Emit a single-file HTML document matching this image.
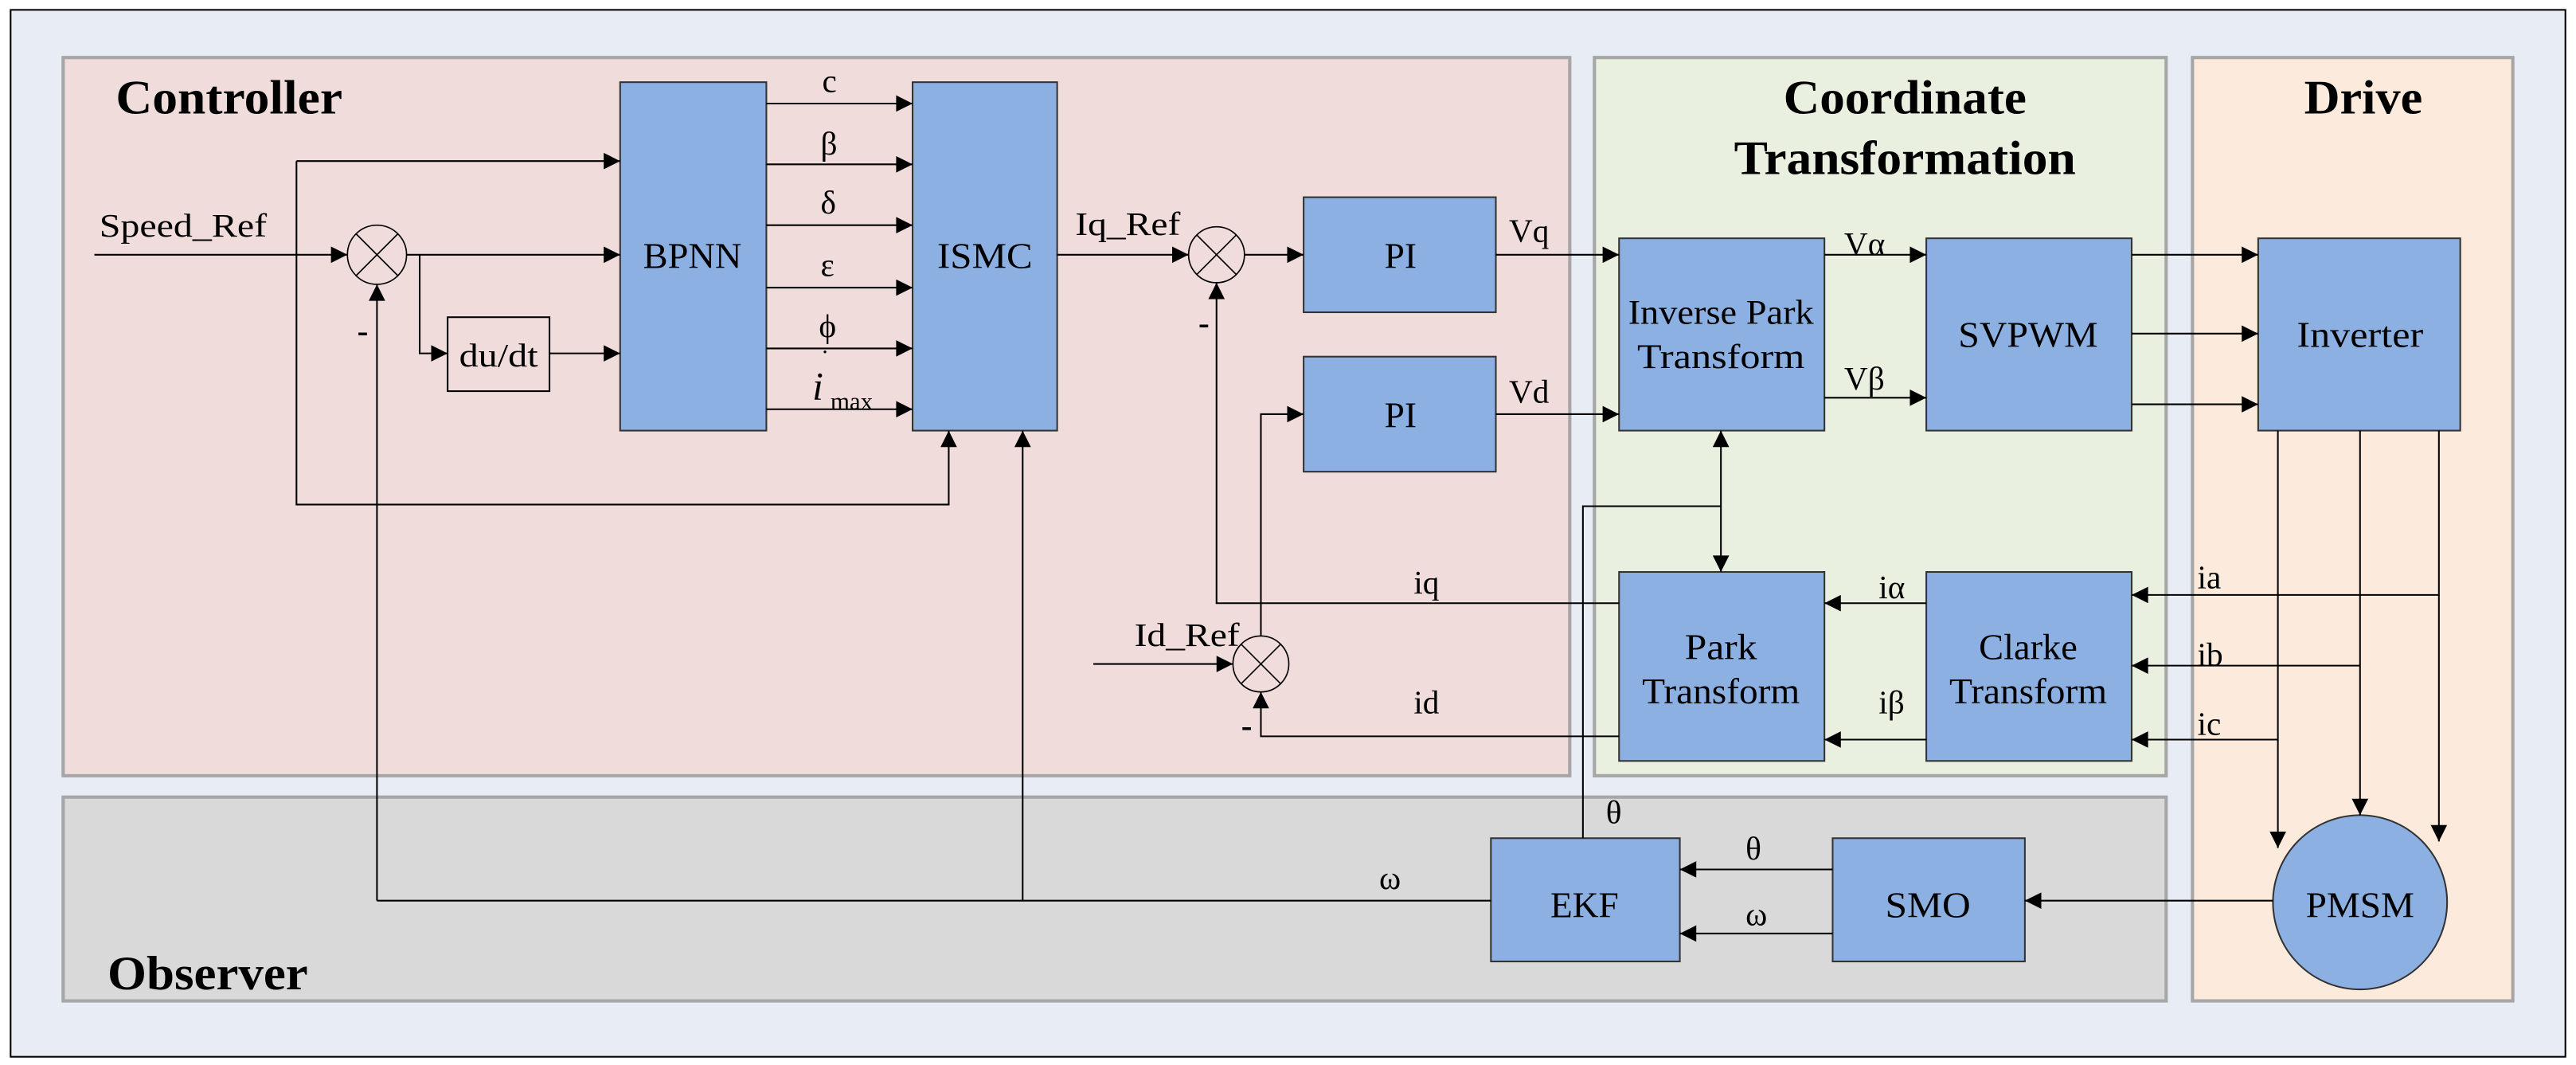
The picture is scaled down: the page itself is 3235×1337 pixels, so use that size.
<!DOCTYPE html>
<html><head><meta charset="utf-8"><style>
html,body{margin:0;padding:0;background:#fff;}
svg{display:block}
text{font-family:"Liberation Serif",serif;fill:#000}
</style></head><body>
<svg width="3235" height="1337" viewBox="0 0 1567 648" xmlns="http://www.w3.org/2000/svg">
<defs>
<marker id="a" viewBox="0 0 10 10" refX="10" refY="5" markerWidth="12" markerHeight="10" markerUnits="userSpaceOnUse" orient="auto"><path d="M0,0L10,5L0,10z" fill="#000"/></marker>
<marker id="s" viewBox="0 0 10 10" refX="0" refY="5" markerWidth="12" markerHeight="10" markerUnits="userSpaceOnUse" orient="auto"><path d="M10,0L0,5L10,10z" fill="#000"/></marker>
</defs>
<rect x="0" y="0" width="1567" height="648" fill="#fff"/>
<rect x="6" y="6" width="1555" height="637" fill="#e8edf5" stroke="#000" stroke-width="1"/>
<rect x="38" y="35" width="917" height="437" fill="#f0dcdb" stroke="#a6a6a6" stroke-width="2"/>
<rect x="970" y="35" width="348" height="437" fill="#e9f0e0" stroke="#a6a6a6" stroke-width="2"/>
<rect x="1334" y="35" width="195" height="574" fill="#fcebdd" stroke="#a6a6a6" stroke-width="2"/>
<rect x="38" y="485" width="1280" height="124" fill="#d9d9d9" stroke="#a6a6a6" stroke-width="2"/>

<g font-weight="bold" font-size="29">
<text x="70" y="69" textLength="138" lengthAdjust="spacingAndGlyphs">Controller</text>
<text x="1085" y="69" textLength="148" lengthAdjust="spacingAndGlyphs">Coordinate</text>
<text x="1055" y="106" textLength="208" lengthAdjust="spacingAndGlyphs">Transformation</text>
<text x="1402" y="69" textLength="72" lengthAdjust="spacingAndGlyphs">Drive</text>
<text x="65" y="602" textLength="122" lengthAdjust="spacingAndGlyphs">Observer</text>
</g>

<g fill="#8db0e2" stroke="#333" stroke-width="1">
<rect x="377" y="50" width="89" height="212"/>
<rect x="555" y="50" width="88" height="212"/>
<rect x="793" y="120" width="117" height="70"/>
<rect x="793" y="217" width="117" height="70"/>
<rect x="985" y="145" width="125" height="117"/>
<rect x="1172" y="145" width="125" height="117"/>
<rect x="1374" y="145" width="123" height="117"/>
<rect x="985" y="348" width="125" height="115"/>
<rect x="1172" y="348" width="125" height="115"/>
<rect x="907" y="510" width="115" height="75"/>
<rect x="1115" y="510" width="117" height="75"/>
<circle cx="1436" cy="549" r="53"/>
</g>
<rect x="272" y="193" width="62" height="45" fill="none" stroke="#000" stroke-width="1"/>

<g fill="none" stroke="#000" stroke-width="0.8">
<ellipse cx="229" cy="155" rx="18" ry="18"/>
<path d="M216,142L242,168M242,142L216,168"/>
<ellipse cx="740" cy="155" rx="17" ry="17"/>
<path d="M728,143L752,167M752,143L728,167"/>
<ellipse cx="767" cy="404" rx="17" ry="17"/>
<path d="M755,392L779,416M779,392L755,416"/>
</g>

<g fill="none" stroke="#000" stroke-width="1">
<path d="M57,155H211" marker-end="url(#a)"/>
<path d="M247,155H377" marker-end="url(#a)"/>
<path d="M255,155V215H272" marker-end="url(#a)"/>
<path d="M334,215H377" marker-end="url(#a)"/>
<path d="M180,98H377" marker-end="url(#a)"/>
<path d="M180,98V307H577V262" marker-end="url(#a)"/>
<path d="M229,548V173" marker-end="url(#a)"/>
<path d="M622,548V262" marker-end="url(#a)"/>
<path d="M907,548H229"/>
<path d="M466,63H555" marker-end="url(#a)"/>
<path d="M466,100H555" marker-end="url(#a)"/>
<path d="M466,137H555" marker-end="url(#a)"/>
<path d="M466,175H555" marker-end="url(#a)"/>
<path d="M466,212H555" marker-end="url(#a)"/>
<path d="M466,249H555" marker-end="url(#a)"/>
<path d="M643,155H723" marker-end="url(#a)"/>
<path d="M757,155H793" marker-end="url(#a)"/>
<path d="M985,367H740V172" marker-end="url(#a)"/>
<path d="M665,404H750" marker-end="url(#a)"/>
<path d="M767,387V252H793" marker-end="url(#a)"/>
<path d="M985,448H767V421" marker-end="url(#a)"/>
<path d="M910,155H985" marker-end="url(#a)"/>
<path d="M910,252H985" marker-end="url(#a)"/>
<path d="M1110,155H1172" marker-end="url(#a)"/>
<path d="M1110,242H1172" marker-end="url(#a)"/>
<path d="M1297,155H1374" marker-end="url(#a)"/>
<path d="M1297,203H1374" marker-end="url(#a)"/>
<path d="M1297,246H1374" marker-end="url(#a)"/>
<path d="M1047,262V348" marker-start="url(#s)" marker-end="url(#a)"/>
<path d="M1047,308H963V510"/>
<path d="M1172,367H1110" marker-end="url(#a)"/>
<path d="M1172,450H1110" marker-end="url(#a)"/>
<path d="M1386,262V516" marker-end="url(#a)"/>
<path d="M1436,262V496" marker-end="url(#a)"/>
<path d="M1484,262V512" marker-end="url(#a)"/>
<path d="M1484,362H1297" marker-end="url(#a)"/>
<path d="M1436,405H1297" marker-end="url(#a)"/>
<path d="M1386,450H1297" marker-end="url(#a)"/>
<path d="M1383,548H1232" marker-end="url(#a)"/>
<path d="M1115,529H1022" marker-end="url(#a)"/>
<path d="M1115,568H1022" marker-end="url(#a)"/>
</g>

<g font-size="22" text-anchor="middle">
<text x="421" y="163" textLength="60" lengthAdjust="spacingAndGlyphs">BPNN</text>
<text x="599" y="163" textLength="58" lengthAdjust="spacingAndGlyphs">ISMC</text>
<text x="852" y="163">PI</text>
<text x="852" y="260">PI</text>
<text x="303" y="223" font-size="20" textLength="48" lengthAdjust="spacingAndGlyphs">du/dt</text>
<text x="1047" y="197" font-size="21" textLength="113" lengthAdjust="spacingAndGlyphs">Inverse Park</text>
<text x="1047" y="224" font-size="21" textLength="102" lengthAdjust="spacingAndGlyphs">Transform</text>
<text x="1234" y="211" textLength="85" lengthAdjust="spacingAndGlyphs">SVPWM</text>
<text x="1436" y="211" textLength="77" lengthAdjust="spacingAndGlyphs">Inverter</text>
<text x="1047" y="401" textLength="44" lengthAdjust="spacingAndGlyphs">Park</text>
<text x="1047" y="428" textLength="96" lengthAdjust="spacingAndGlyphs">Transform</text>
<text x="1234" y="401" textLength="60" lengthAdjust="spacingAndGlyphs">Clarke</text>
<text x="1234" y="428" textLength="96" lengthAdjust="spacingAndGlyphs">Transform</text>
<text x="964" y="558">EKF</text>
<text x="1173" y="558" textLength="52" lengthAdjust="spacingAndGlyphs">SMO</text>
<text x="1436" y="558" textLength="66" lengthAdjust="spacingAndGlyphs">PMSM</text>
</g>

<g font-size="20">
<text x="60" y="144" textLength="102" lengthAdjust="spacingAndGlyphs">Speed_Ref</text>
<text x="654" y="143" textLength="64" lengthAdjust="spacingAndGlyphs">Iq_Ref</text>
<text x="690" y="393" textLength="64" lengthAdjust="spacingAndGlyphs">Id_Ref</text>
<text x="500" y="56">c</text>
<text x="499" y="94">β</text>
<text x="499" y="130">δ</text>
<text x="499" y="168">ε</text>
<text x="498" y="205">ϕ</text>
<text x="494" y="243" font-style="italic" font-size="24">i</text>
<text x="499" y="224" font-size="16">˙</text>
<text x="505" y="249" font-size="15">max</text>
<text x="217" y="208" font-weight="bold">-</text>
<text x="729" y="203" font-weight="bold">-</text>
<text x="755" y="448" font-weight="bold">-</text>
<text x="918" y="147">Vq</text>
<text x="918" y="245">Vd</text>
<text x="1122" y="155">Vα</text>
<text x="1122" y="237">Vβ</text>
<text x="860" y="361">iq</text>
<text x="860" y="434">id</text>
<text x="1143" y="364">iα</text>
<text x="1143" y="434">iβ</text>
<text x="1337" y="358">ia</text>
<text x="1337" y="405">ib</text>
<text x="1337" y="447">ic</text>
<text x="977" y="501">θ</text>
<text x="1062" y="523">θ</text>
<text x="1062" y="563">ω</text>
<text x="839" y="541">ω</text>
</g>
</svg>
</body></html>
